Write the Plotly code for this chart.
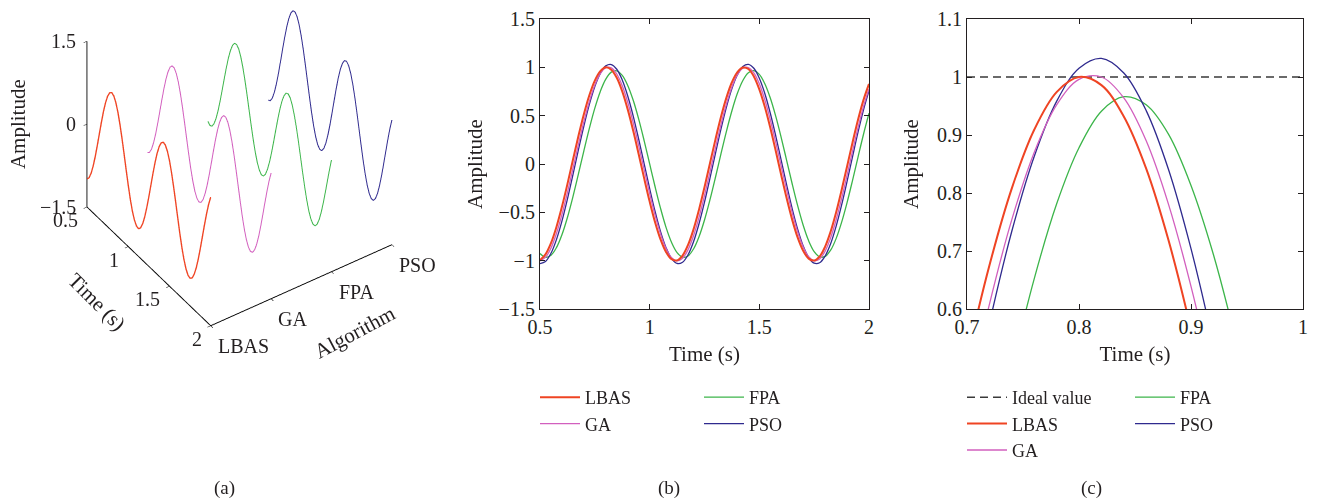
import plotly.graph_objects as go

# ---------------- data ----------------
algorithms = ["LBAS", "GA", "FPA", "PSO"]
alg_index = [0, 1, 2, 3]

time_ab = [0.500, 0.525, 0.550, 0.575, 0.600, 0.625, 0.650, 0.675, 0.700, 0.725,
           0.750, 0.775, 0.800, 0.825, 0.850, 0.875, 0.900, 0.925, 0.950, 0.975,
           1.000, 1.025, 1.050, 1.075, 1.100, 1.125, 1.150, 1.175, 1.200, 1.225,
           1.250, 1.275, 1.300, 1.325, 1.350, 1.375, 1.400, 1.425, 1.450, 1.475,
           1.500, 1.525, 1.550, 1.575, 1.600, 1.625, 1.650, 1.675, 1.700, 1.725,
           1.750, 1.775, 1.800, 1.825, 1.850, 1.875, 1.900, 1.925, 1.950, 1.975, 2.000]
lbas_ab = [-0.994, -0.935, -0.819, -0.651, -0.443, -0.208, 0.041, 0.287, 0.515, 0.711,
           0.863, 0.961, 1.000, 0.976, 0.892, 0.752, 0.565, 0.344, 0.101, -0.149,
           -0.389, -0.605, -0.783, -0.912, -0.985, -0.997, -0.947, -0.837, -0.676, -0.472,
           -0.240, 0.008, 0.255, 0.486, 0.687, 0.846, 0.951, 0.998, 0.983, 0.906,
           0.773, 0.592, 0.375, 0.134, -0.116, -0.358, -0.578, -0.762, -0.898, -0.979,
           -0.999, -0.957, -0.855, -0.700, -0.502, -0.272, -0.025, 0.223, 0.457, 0.663, 0.828]
ga_ab = [-1.003, -0.966, -0.870, -0.719, -0.524, -0.296, -0.049, 0.200, 0.437, 0.647,
         0.816, 0.935, 0.996, 0.995, 0.931, 0.810, 0.639, 0.428, 0.190, -0.059,
         -0.305, -0.532, -0.726, -0.875, -0.969, -1.003, -0.975, -0.886, -0.742, -0.552,
         -0.327, -0.083, 0.167, 0.407, 0.621, 0.797, 0.923, 0.991, 0.998, 0.943,
         0.830, 0.664, 0.458, 0.223, -0.026, -0.273, -0.504, -0.703, -0.858, -0.960,
         -1.002, -0.982, -0.901, -0.764, -0.579, -0.359, -0.116, 0.134, 0.376, 0.594, 0.776]
fpa_ab = [-0.926, -0.965, -0.944, -0.865, -0.732, -0.553, -0.340, -0.105, 0.136, 0.368,
          0.578, 0.751, 0.878, 0.950, 0.964, 0.917, 0.813, 0.659, 0.464, 0.240,
          0.001, -0.238, -0.462, -0.658, -0.812, -0.916, -0.964, -0.951, -0.879, -0.752,
          -0.579, -0.369, -0.137, 0.104, 0.338, 0.551, 0.731, 0.864, 0.944, 0.965,
          0.927, 0.830, 0.682, 0.492, 0.271, 0.033, -0.207, -0.434, -0.634, -0.795,
          -0.906, -0.961, -0.956, -0.892, -0.772, -0.604, -0.399, -0.169, 0.072, 0.308, 0.525]
pso_ab = [-1.031, -1.009, -0.924, -0.782, -0.591, -0.363, -0.112, 0.145, 0.393, 0.617,
          0.802, 0.938, 1.015, 1.029, 0.980, 0.869, 0.704, 0.496, 0.256, 0.001,
          -0.255, -0.494, -0.703, -0.868, -0.979, -1.029, -1.016, -0.939, -0.804, -0.618,
          -0.395, -0.146, 0.111, 0.361, 0.589, 0.780, 0.923, 1.009, 1.031, 0.990,
          0.887, 0.729, 0.525, 0.289, 0.035, -0.221, -0.464, -0.677, -0.849, -0.968,
          -1.026, -1.021, -0.952, -0.825, -0.645, -0.426, -0.180, 0.077, 0.329, 0.561, 0.758]

time_c = [0.68, 0.70, 0.72, 0.74, 0.76, 0.78, 0.80, 0.82, 0.84, 0.86,
          0.88, 0.90, 0.92, 0.94, 0.96]
lbas_c = [0.334, 0.515, 0.675, 0.808, 0.909, 0.974, 1.000, 0.986, 0.932, 0.842,
          0.718, 0.565, 0.390, 0.199, 0.001]
ga_c = [0.249, 0.437, 0.608, 0.754, 0.870, 0.952, 0.996, 1.000, 0.964, 0.890,
        0.780, 0.639, 0.473, 0.288, 0.091]
fpa_c = [-0.057, 0.136, 0.323, 0.497, 0.652, 0.781, 0.878, 0.941, 0.966, 0.952,
         0.901, 0.813, 0.694, 0.546, 0.377]
pso_c = [0.196, 0.393, 0.575, 0.734, 0.863, 0.958, 1.015, 1.032, 1.007, 0.942,
         0.840, 0.704, 0.540, 0.355, 0.155]

ideal_t = [0.7, 1.0]
ideal_val = [1.0, 1.0]

b_xticks = [0.5, 1, 1.5, 2]
b_yticks = [-1.5, -1, -0.5, 0, 0.5, 1, 1.5]
c_xticks = [0.7, 0.8, 0.9, 1]
c_yticks = [0.6, 0.7, 0.8, 0.9, 1, 1.1]
a_zticks = [-1.5, 0, 1.5]
a_zlabels = ["\u22121.5", "0", "1.5"]
a_tticks = [0.5, 1, 1.5, 2]
a_tlabels = ["0.5", "1", "1.5", "2"]

# ---------------- styles ----------------
FONT = "Liberation Serif"
TXT = "#231f20"
colors = {"LBAS": "#ef4423", "GA": "#d25fbe", "FPA": "#3cb54a", "PSO": "#2f2a8e"}
widths = {"LBAS": 2.0, "GA": 1.3, "FPA": 1.3, "PSO": 1.3}
ranks = {"LBAS": 2, "GA": 3, "FPA": 4, "PSO": 5}

series_ab = {"LBAS": lbas_ab, "GA": ga_ab, "FPA": fpa_ab, "PSO": pso_ab}
series_c = {"LBAS": lbas_c, "GA": ga_c, "FPA": fpa_c, "PSO": pso_c}

W, H = 1319, 504
fig = go.Figure()

# ---------------- panel (a): 3D ----------------
for name, idx in zip(algorithms, alg_index):
    fig.add_trace(go.Scatter3d(
        x=time_ab, y=[idx] * len(time_ab), z=series_ab[name],
        mode="lines", line=dict(color=colors[name], width=widths[name] + 0.7),
        showlegend=False, hoverinfo="skip", scene="scene"))

# ---------------- panels (b) and (c) ----------------
legend_b = {"LBAS": "legend", "GA": "legend", "FPA": "legend2", "PSO": "legend2"}
legend_c = {"LBAS": "legend3", "GA": "legend3", "FPA": "legend4", "PSO": "legend4"}

fig.add_trace(go.Scatter(x=ideal_t, y=ideal_val, mode="lines", name="Ideal value",
                         line=dict(color="#3a3a3a", width=1.4, dash="8px,5px"),
                         xaxis="x2", yaxis="y2", legend="legend3", legendrank=1))
for name in ["FPA", "PSO", "GA", "LBAS"]:
    fig.add_trace(go.Scatter(x=time_ab, y=series_ab[name], mode="lines", name=name,
                             line=dict(color=colors[name], width=widths[name], shape="spline"),
                             xaxis="x", yaxis="y", legend=legend_b[name],
                             legendrank=ranks[name]))
    fig.add_trace(go.Scatter(x=time_c, y=series_c[name], mode="lines", name=name,
                             line=dict(color=colors[name], width=widths[name], shape="spline"),
                             xaxis="x2", yaxis="y2", legend=legend_c[name],
                             legendrank=ranks[name]))

axis_common = dict(showline=True, mirror="ticks", linecolor=TXT, linewidth=1.2,
                   ticks="inside", ticklen=5, tickcolor=TXT, showgrid=False, zeroline=False,
                   tickfont=dict(family=FONT, size=20, color=TXT),
                   title_font=dict(family=FONT, size=21, color=TXT))

ydom = [195 / H, 485 / H]
fig.update_layout(
    xaxis=dict(domain=[540 / W, 869 / W], range=[0.5, 2], tickvals=b_xticks,
               title=dict(text="Time (s)", standoff=9), anchor="y", **axis_common),
    yaxis=dict(domain=ydom, range=[-1.5, 1.5], tickvals=b_yticks,
               title=dict(text="Amplitude", standoff=10), anchor="x", **axis_common),
    xaxis2=dict(domain=[967 / W, 1303 / W], range=[0.7, 1.0], tickvals=c_xticks,
                title=dict(text="Time (s)", standoff=9), anchor="y2", **axis_common),
    yaxis2=dict(domain=ydom, range=[0.6, 1.1], tickvals=c_yticks,
                title=dict(text="Amplitude", standoff=12), anchor="x2", **axis_common),
)

leg_common = dict(font=dict(family=FONT, size=18, color=TXT), bgcolor="rgba(0,0,0,0)",
                  borderwidth=0, yanchor="top", xanchor="left", tracegroupgap=0,
                  itemwidth=40, traceorder="normal")
ly = (H - 379) / H
fig.update_layout(
    legend=dict(x=535 / W, y=ly, **leg_common),
    legend2=dict(x=699 / W, y=ly, **leg_common),
    legend3=dict(x=962 / W, y=ly, **leg_common),
    legend4=dict(x=1130 / W, y=ly, **leg_common),
)

# 3D scene
ax3 = dict(showgrid=False, showbackground=False, zeroline=False, showspikes=False,
           showline=True, linecolor="black", linewidth=2, ticks="outside", ticklen=4,
           tickcolor="black", title=dict(text=""), showticklabels=False)
tf = dict(family=FONT, size=20, color=TXT)
tickanns = []
for v, lab in zip(a_zticks, a_zlabels):
    tickanns.append(dict(x=0.5, y=0, z=v, text=lab, showarrow=False, xanchor="right",
                         xshift=-9, font=tf))
for v, lab in zip(a_tticks, a_tlabels):
    tickanns.append(dict(x=v, y=0, z=-1.5, text=lab, showarrow=False, xanchor="right",
                         xshift=-7, yshift=-13, font=tf))
for v, lab in zip(alg_index, algorithms):
    tickanns.append(dict(x=2, y=v, z=-1.5, text=lab, showarrow=False, xanchor="left",
                         xshift=5, yshift=-20, font=tf))
titf = dict(family=FONT, size=21, color=TXT)
tickanns += [
    dict(x=0.5, y=0, z=0, text="Amplitude", textangle=-90, showarrow=False,
         xshift=-69, font=titf),
    dict(x=1.25, y=0, z=-1.5, text="Time (s)", textangle=45, showarrow=False,
         xshift=-52, yshift=-36, font=titf),
    dict(x=2, y=1.5, z=-1.5, text="Algorithm", textangle=-28, showarrow=False,
         xshift=54, yshift=-47, font=titf),
]

D = 2.2
cx, cy, cz = 0.0109, 0.0, -0.5650
k = 0.8707
fig.update_layout(scene=dict(
    domain=dict(x=[0, 482 / W], y=[0, 1]),
    xaxis=dict(range=[0.5, 2], tickvals=a_tticks, **ax3),
    yaxis=dict(range=[0, 3], tickvals=alg_index, **ax3),
    zaxis=dict(range=[-1.5, 1.5], tickvals=a_zticks, **ax3),
    aspectmode="manual", aspectratio=dict(x=k, y=k, z=k),
    camera=dict(eye=dict(x=cx + 0.624 * D, y=cy - 0.426 * D, z=cz + 0.6555 * D),
                up=dict(x=0, y=0, z=1), center=dict(x=cx, y=cy, z=cz),
                projection=dict(type="orthographic")),
    annotations=tickanns,
))

for txt, xp in [("(a)", 212), ("(b)", 669), ("(c)", 1104)]:
    fig.add_annotation(x=xp / W, y=(H - 488) / H, xref="paper", yref="paper",
                       yanchor="middle", text=txt, showarrow=False,
                       font=dict(family=FONT, size=19, color=TXT))

fig.update_layout(width=W, height=H,
                  margin=dict(l=0, r=0, t=0, b=0, autoexpand=False),
                  paper_bgcolor="white", plot_bgcolor="white",
                  font=dict(family=FONT, color=TXT))

fig.write_html("out.html",
               config={"displayModeBar": False},
               post_script="document.body.style.margin='0';document.body.style.overflow='hidden';")
